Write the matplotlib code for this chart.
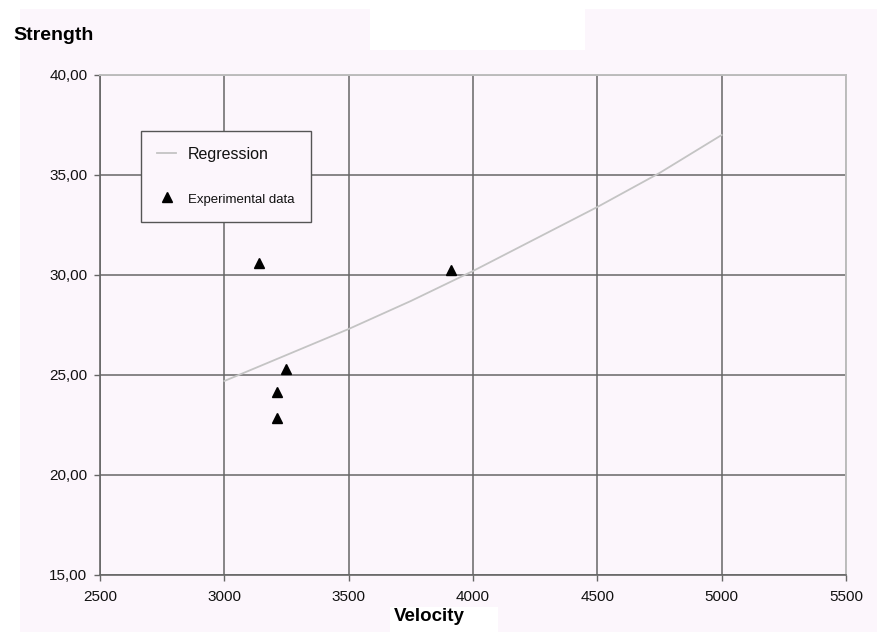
import matplotlib
matplotlib.use("Agg")
from matplotlib import pyplot as plt, ticker
from matplotlib.patches import Rectangle

plt.rcParams["font.family"] = ["Liberation Sans", "DejaVu Sans"]

# regression curve
reg_x = [3000, 3250, 3500, 3750, 4000, 4250, 4500, 4750, 5000]
reg_y = [24.7, 26.0, 27.3, 28.7, 30.2, 31.8, 33.4, 35.1, 37.0]

# experimental points
exp_x = [3140, 3913, 3246, 3210, 3213]
exp_y = [30.6, 30.25, 25.28, 24.17, 22.83]

x_ticks = [2500, 3000, 3500, 4000, 4500, 5000, 5500]
y_ticks = [15, 20, 25, 30, 35, 40]

W, H = 878, 632
pink = "#fcf6fc"
dark = "#666666"
light = "#bdbdbd"

fig = plt.figure(figsize=(W / 100, H / 100), dpi=100, facecolor="white")

# background patches (pink sheet with a few white cut-outs)
bg = [((20, 0), 858, 623, pink),
      ((370, 582), 215, 50, "white"),
      ((390, 0), 108, 25, "white")]
for (px, py), w, h, c in bg:
    fig.patches.append(Rectangle((px / W, py / H), w / W, h / H,
                                 transform=fig.transFigure, facecolor=c,
                                 edgecolor="none", zorder=-10))

ax = fig.add_axes([100 / W, 1 - 575 / H, 746 / W, 500 / H])
ax.set_facecolor(pink)

ax.plot(reg_x, reg_y, color="#c4c4c4", lw=1.3, label="Regression", zorder=3)
ax.plot(exp_x, exp_y, ls="none", marker="^", ms=6.5, color="black",
        label="Experimental data", zorder=4)

ax.set_xlim(2500, 5500)
ax.set_ylim(15, 40)
ax.set_xticks(x_ticks)
ax.set_yticks(y_ticks)
ax.yaxis.set_major_formatter(ticker.FuncFormatter(lambda v, p: f"{v:.2f}".replace(".", ",")))
ax.xaxis.set_major_formatter(ticker.FuncFormatter(lambda v, p: f"{int(v)}"))

ax.grid(True, color=dark, lw=1.1)
ax.set_axisbelow(True)
for s in ["left", "bottom"]:
    ax.spines[s].set_color(dark)
    ax.spines[s].set_linewidth(1.2)
for s in ["top", "right"]:
    ax.spines[s].set_color(light)
    ax.spines[s].set_linewidth(1.4)

ax.tick_params(axis="both", direction="out", length=4, width=1, color=dark,
               labelsize=11, labelcolor="#111111")
ax.tick_params(axis="x", pad=7)
ax.tick_params(axis="y", pad=5)

leg = ax.legend(loc="upper left", bbox_to_anchor=(41 / 746, 1 - 56 / 500),
                borderaxespad=0, fontsize=11.5, frameon=True, fancybox=False,
                edgecolor="#555555", facecolor=pink, framealpha=1,
                handlelength=1.2, handletextpad=0.75, labelspacing=1.85,
                borderpad=1.0)
leg.get_frame().set_linewidth(1.0)
texts = leg.get_texts()
texts[1].set_fontsize(9.5)
for t in texts:
    t.set_color("#111111")

fig.text(13 / W, 1 - 40 / H, "Strength", fontsize=14, fontweight="bold",
         va="baseline", ha="left")
fig.text(429 / W, 1 - 621 / H, "Velocity", fontsize=13.5, fontweight="bold",
         va="baseline", ha="center")

fig.savefig("out.png", dpi=100, facecolor="white")
